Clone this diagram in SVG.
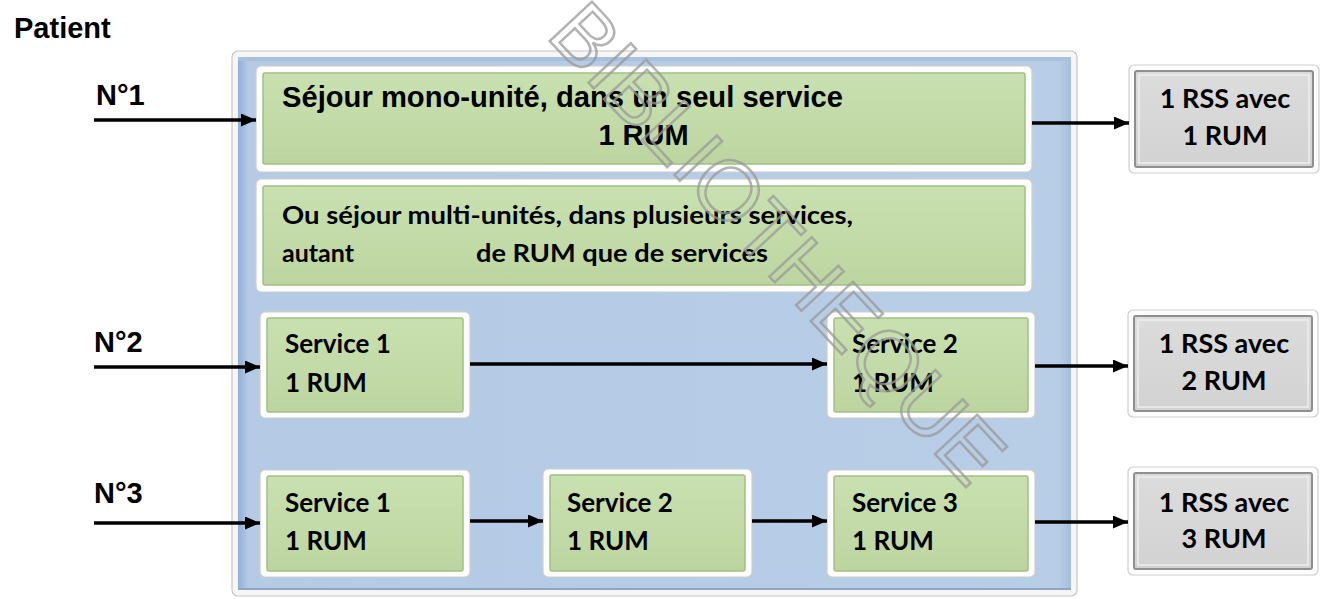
<svg xmlns="http://www.w3.org/2000/svg" width="1324" height="599" viewBox="0 0 1324 599">
  <defs>
    <marker id="arrow" markerUnits="userSpaceOnUse" markerWidth="15" markerHeight="13" viewBox="0 0 15 13" refX="15" refY="6.5" orient="auto">
      <path d="M0,0 L15,6.5 L0,13 z" fill="#000"/>
    </marker>
    <linearGradient id="blueFill" x1="0" y1="0" x2="1" y2="0">
      <stop offset="0" stop-color="#8fafd6"/>
      <stop offset="0.012" stop-color="#b4cae5"/>
      <stop offset="0.985" stop-color="#b8cde6"/>
      <stop offset="1" stop-color="#a3bfe0"/>
    </linearGradient>
    <linearGradient id="greenFill" x1="0" y1="0" x2="0" y2="1">
      <stop offset="0" stop-color="#c9e0b0"/>
      <stop offset="0.5" stop-color="#c3dba8"/>
      <stop offset="1" stop-color="#bcd5a0"/>
    </linearGradient>
    <linearGradient id="grayFill" x1="0" y1="0" x2="0" y2="1">
      <stop offset="0" stop-color="#dcdcdc"/>
      <stop offset="1" stop-color="#d2d2d2"/>
    </linearGradient>
  </defs>
  <style>
    .arial { font-family: "Liberation Sans", Arial, sans-serif; font-weight: bold; fill: #000; }
    .cal { font-family: Lato, "Open Sans", sans-serif; font-weight: bold; fill: #000; }
    .frame { fill: #fdfdfd; stroke: #cdcdcd; stroke-width: 1.2; }
    .green { fill: url(#greenFill); stroke: #a3bf84; stroke-width: 1.5; }
    .gray { fill: url(#grayFill); stroke: #8f8f8f; stroke-width: 2; }
    .grayIn { fill: none; stroke: #eeeeee; stroke-width: 1.5; }
    .link { stroke: #000; stroke-width: 3.5; fill: none; marker-end: url(#arrow); }
    .mark { font-family: "Liberation Sans", Arial, sans-serif; font-size: 84px; fill: none; stroke: #9a9a9a; stroke-width: 2.5; opacity: 0.75; }
  </style>

  <rect x="0" y="0" width="1324" height="599" fill="#ffffff"/>

  <!-- outer container -->
  <g id="container">
    <rect x="232" y="51" width="845" height="545" rx="6" fill="#f6f6f6" stroke="#c6c6c6" stroke-width="1.2"/>
    <rect x="238" y="57" width="833" height="533" fill="url(#blueFill)"/>
    <line x1="238" y1="59" x2="1071" y2="59" stroke="#a9c1de" stroke-width="4"/>
    <line x1="238" y1="589" x2="1071" y2="589" stroke="#8da6c4" stroke-width="2"/>
  </g>

  <!-- labels on the left -->
  <text id="patient" class="arial" x="14" y="38" font-size="29">Patient</text>
  <text class="arial" x="96" y="105" font-size="29">N°1</text>
  <text class="arial" x="94" y="352" font-size="29">N°2</text>
  <text class="arial" x="94" y="503" font-size="29">N°3</text>

  <!-- single-unit stay -->
  <g id="mono">
    <rect class="frame" x="256" y="66" width="776" height="106" rx="5"/>
    <rect class="green" x="263" y="73" width="762" height="91" rx="2"/>
    <text class="arial" x="282" y="107" font-size="29" textLength="561" lengthAdjust="spacingAndGlyphs">Séjour mono-unité, dans un seul service</text>
    <text class="arial" x="643.5" y="145" font-size="29" text-anchor="middle">1 RUM</text>
  </g>

  <!-- multi-unit stay -->
  <g id="multi">
    <rect class="frame" x="256" y="179" width="776" height="113" rx="5"/>
    <rect class="green" x="263" y="186" width="762" height="99" rx="2"/>
    <text class="cal" x="282" y="224" font-size="25" textLength="571" lengthAdjust="spacingAndGlyphs">Ou séjour multi-unités, dans plusieurs services,</text>
    <text class="cal" x="282" y="262" font-size="25">autant</text>
    <text class="cal" x="476" y="262" font-size="25" textLength="292" lengthAdjust="spacingAndGlyphs">de RUM que de services</text>
  </g>

  <!-- patient 2 -->
  <g id="p2s1">
    <rect class="frame" x="260" y="312" width="210" height="106" rx="5"/>
    <rect class="green" x="267" y="318" width="196" height="94" rx="2"/>
    <text class="cal" x="285" y="353" font-size="26">Service 1</text>
    <text class="cal" x="285" y="392" font-size="26">1 RUM</text>
  </g>
  <g id="p2s2">
    <rect class="frame" x="827" y="312" width="208" height="106" rx="5"/>
    <rect class="green" x="834" y="318" width="194" height="94" rx="2"/>
    <text class="cal" x="852" y="353" font-size="26">Service 2</text>
    <text class="cal" x="852" y="392" font-size="26">1 RUM</text>
  </g>

  <!-- patient 3 -->
  <g id="p3s1">
    <rect class="frame" x="260" y="470" width="210" height="107" rx="5"/>
    <rect class="green" x="267" y="476" width="196" height="95" rx="2"/>
    <text class="cal" x="285" y="512" font-size="26">Service 1</text>
    <text class="cal" x="285" y="550" font-size="26">1 RUM</text>
  </g>
  <g id="p3s2">
    <rect class="frame" x="543" y="469" width="209" height="108" rx="5"/>
    <rect class="green" x="550" y="475" width="195" height="96" rx="2"/>
    <text class="cal" x="567" y="512" font-size="26">Service 2</text>
    <text class="cal" x="567" y="550" font-size="26">1 RUM</text>
  </g>
  <g id="p3s3">
    <rect class="frame" x="827" y="470" width="208" height="107" rx="5"/>
    <rect class="green" x="834" y="476" width="194" height="95" rx="2"/>
    <text class="cal" x="852" y="512" font-size="26">Service 3</text>
    <text class="cal" x="852" y="550" font-size="26">1 RUM</text>
  </g>

  <!-- resulting summaries -->
  <g id="rss1">
    <rect class="frame" x="1129" y="65" width="190" height="108" rx="5" stroke="#b5b5b5"/>
    <rect class="gray" x="1135" y="71" width="178" height="96" rx="2"/>
    <rect class="grayIn" x="1139" y="75" width="170" height="88"/>
    <text class="cal" x="1225" y="108" font-size="27" text-anchor="middle">1 RSS avec</text>
    <text class="cal" x="1225" y="145" font-size="27" text-anchor="middle">1 RUM</text>
  </g>
  <g id="rss2">
    <rect class="frame" x="1128" y="310" width="190" height="107" rx="5" stroke="#b5b5b5"/>
    <rect class="gray" x="1134" y="316" width="178" height="95" rx="2"/>
    <rect class="grayIn" x="1138" y="320" width="170" height="87"/>
    <text class="cal" x="1224" y="353" font-size="27" text-anchor="middle">1 RSS avec</text>
    <text class="cal" x="1224" y="390" font-size="27" text-anchor="middle">2 RUM</text>
  </g>
  <g id="rss3">
    <rect class="frame" x="1128" y="467" width="190" height="108" rx="5" stroke="#b5b5b5"/>
    <rect class="gray" x="1134" y="473" width="178" height="96" rx="2"/>
    <rect class="grayIn" x="1138" y="477" width="170" height="88"/>
    <text class="cal" x="1224" y="512" font-size="27" text-anchor="middle">1 RSS avec</text>
    <text class="cal" x="1224" y="548" font-size="27" text-anchor="middle">3 RUM</text>
  </g>

  <!-- connectors -->
  <g id="connectors">
    <line class="link" x1="94" y1="120" x2="256" y2="120"/>
    <line class="link" x1="1032" y1="123" x2="1129" y2="123"/>
    <line class="link" x1="94" y1="367" x2="260" y2="367"/>
    <line class="link" x1="470" y1="364" x2="827" y2="364"/>
    <line class="link" x1="1035" y1="366" x2="1128" y2="366"/>
    <line class="link" x1="94" y1="523" x2="260" y2="523"/>
    <line class="link" x1="470" y1="521" x2="543" y2="521"/>
    <line class="link" x1="752" y1="521" x2="827" y2="521"/>
    <line class="link" x1="1035" y1="522" x2="1128" y2="522"/>
  </g>

  <!-- watermark -->
  <text class="mark" transform="translate(545 36) rotate(47)" x="0" y="0">BIBLIOTHEQUE</text>
</svg>
